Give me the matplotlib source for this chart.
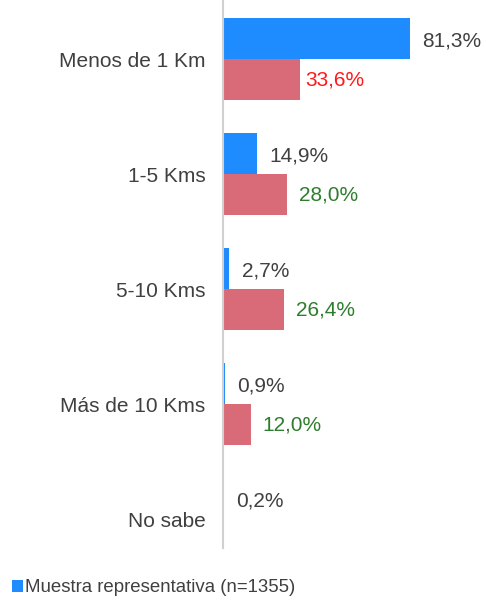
import numpy as np
import matplotlib.pyplot as plt

plt.rcParams['font.family'] = ['Liberation Sans', 'DejaVu Sans']

categorias = ["Menos de 1 Km", "1-5 Kms", "5-10 Kms", "Más de 10 Kms", "No sabe"]
muestra = [81.3, 14.9, 2.7, 0.9, 0.2]
segunda = [33.6, 28.0, 26.4, 12.0, None]
etiquetas_muestra = ["81,3%", "14,9%", "2,7%", "0,9%", "0,2%"]
etiquetas_segunda = ["33,6%", "28,0%", "26,4%", "12,0%", None]
colores_segunda = ["#FF1A1A", "#2E7D2E", "#2E7D2E", "#2E7D2E", None]

azul = "#1E8BFF"
rojo = "#D96B78"
gris = "#404040"

fig = plt.figure(figsize=(4.86, 6.0), dpi=100)
ax = fig.add_axes([223 / 486, 52 / 600, 263 / 486, 548 / 600])

y = np.arange(len(categorias))
h = 0.357
ax.barh(y - h / 2, muestra, height=h, color=azul, label="Muestra representativa (n=1355)")
seg_vals = [v if v is not None else 0 for v in segunda]
ax.barh(y + h / 2, seg_vals, height=h, color=rojo)

for i, v in enumerate(muestra):
    ax.annotate(etiquetas_muestra[i], (v, y[i] - h / 2), xytext=(9, -1.5), textcoords='offset points',
                ha='left', va='center', fontsize=15, color=gris)
for i, v in enumerate(segunda):
    if v is None:
        continue
    off = 3.6 if i == 0 else 8.6
    ax.annotate(etiquetas_segunda[i], (v, y[i] + h / 2), xytext=(off, 0), textcoords='offset points',
                ha='left', va='center', fontsize=15, color=colores_segunda[i])

ax.set_xlim(0, 263 / 2.3)
ax.set_ylim(4.25, -0.513)
ax.set_yticks(y)
ax.set_yticklabels(categorias, fontsize=15, color=gris)
ax.tick_params(axis='y', length=0, pad=12.5)
ax.set_xticks([])
for s in ['top', 'right', 'bottom']:
    ax.spines[s].set_visible(False)
ax.spines['left'].set_color('#D0D0D0')
ax.spines['left'].set_linewidth(1.5)

fig.legend(loc='lower left', bbox_to_anchor=(8 / 486, 0.0), frameon=False, fontsize=13.4,
           handlelength=0.6, handleheight=0.6, handletextpad=0.1, borderaxespad=0.0,
           borderpad=0.2, labelcolor=gris)

fig.savefig("out.png", dpi=100)
